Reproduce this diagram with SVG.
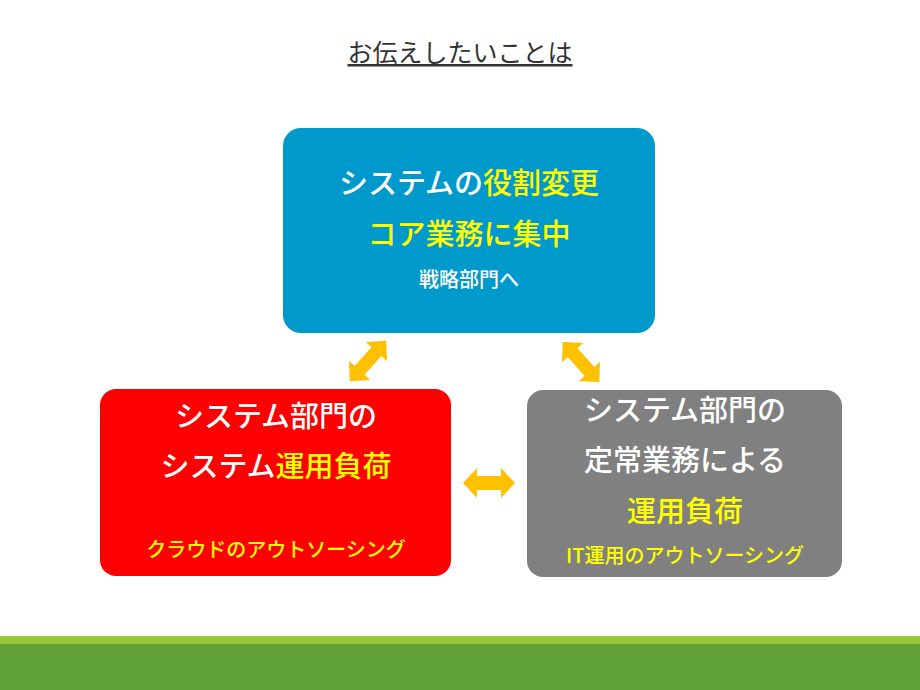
<svg xmlns="http://www.w3.org/2000/svg" width="920" height="690" viewBox="0 0 920 690">
<style>
text{font-family:"Noto Sans CJK JP","Noto Sans",sans-serif;text-anchor:middle;font-weight:500}
.w{fill:#fff}.y{fill:#ffff00}
.l{font-size:29px}.s{font-size:20px}
.arr{fill:#ffc000}
</style>
<defs>
<polygon id="da" points="-26,0 -12,-15 -12,-7 12,-7 12,-15 26,0 12,15 12,7 -12,7 -12,15"/>
</defs>
<rect width="920" height="690" fill="#fff"/>
<rect y="636" width="920" height="8" fill="#99c93a"/>
<rect y="644" width="920" height="46" fill="#62a337"/>
<text x="460" y="62" style="font-size:25px;font-weight:400;fill:#333;text-decoration:underline">お伝えしたいことは</text>
<g id="top">
<rect x="283" y="128" width="372" height="205" rx="18" fill="#0099cc"/>
<text x="469" y="194" class="l w">システムの<tspan class="y">役割変更</tspan></text>
<text x="469" y="245" class="l y">コア業務に集中</text>
<text x="469" y="287" class="s w">戦略部門へ</text>
</g>
<g id="left">
<rect x="100" y="389" width="351" height="187" rx="16" fill="#ff0000"/>
<text x="276" y="427" class="l w">システム部門の</text>
<text x="276" y="477" class="l w">システム<tspan class="y">運用負荷</tspan></text>
<text x="276" y="557" class="s y">クラウドのアウトソーシング</text>
</g>
<g id="right">
<rect x="527" y="390" width="315" height="187" rx="16" fill="#808080"/>
<text x="685" y="421" class="l w">システム部門の</text>
<text x="685" y="471" class="l w">定常業務による</text>
<text x="685" y="522" class="l y">運用負荷</text>
<text x="685" y="563" class="s y">IT運用のアウトソーシング</text>
</g>
<g id="connectors" class="arr">
<use href="#da" transform="translate(368,361) rotate(-48) scale(1.05,0.95)"/>
<use href="#da" transform="translate(581,362) rotate(48) scale(1.05,0.95)"/>
<use href="#da" transform="translate(489,483)"/>
</g>
</svg>
